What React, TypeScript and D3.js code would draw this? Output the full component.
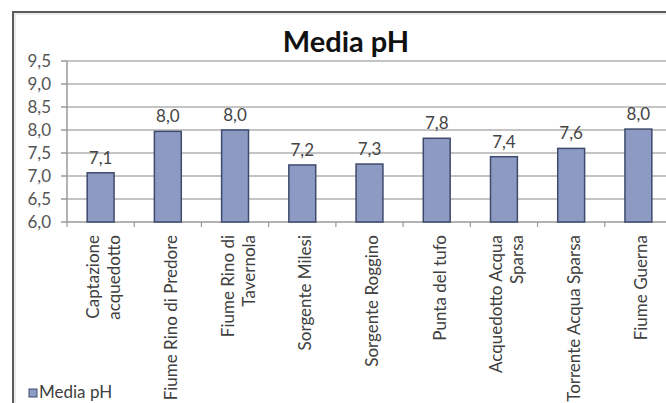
import React from 'react'
import * as d3 from 'd3'

// chart data
const CATEGORIES = [
  'Captazione\nacquedotto',
  'Fiume Rino di Predore',
  'Fiume Rino di\nTavernola',
  'Sorgente Milesi',
  'Sorgente Roggino',
  'Punta del tufo',
  'Acquedotto Acqua\nSparsa',
  'Torrente Acqua Sparsa',
  'Fiume Guerna',
]
const VALUES = [7.07, 7.97, 8.0, 7.24, 7.26, 7.82, 7.42, 7.6, 8.02]
const Y_TICKS = [6.0, 6.5, 7.0, 7.5, 8.0, 8.5, 9.0, 9.5]
const TITLE = 'Media pH'
const SERIES = 'Media pH'

const W = 666
const H = 403
const FONT = 'Lato, "Open Sans", sans-serif'
const BAR_FILL = '#8d9bc4'
const BAR_STROKE = '#3f4b6c'
const GRID = '#c4c4c4'

const fmt = (v: number) => v.toFixed(1).replace('.', ',')

export default function App() {
  const svgRef = React.useRef<SVGSVGElement>(null)

  React.useEffect(() => {
    document.body.style.margin = '0'
    const svg = d3.select(svgRef.current!)
    svg.selectAll('*').remove()

    const left = 67, right = 672, top = 61, bottom = 222

    const x = d3.scaleBand<number>()
      .domain(d3.range(CATEGORIES.length))
      .range([left, right])
      .paddingInner(0.6)
      .paddingOuter(0.3)
    const y = d3.scaleLinear().domain([6, 9.5]).range([bottom, top])

    svg.append('rect').attr('width', W).attr('height', H).attr('fill', '#fff')

    // chart frame (runs off the right and bottom edges)
    svg.append('rect')
      .attr('x', 13).attr('y', 12).attr('width', 720).attr('height', 440)
      .attr('fill', 'none').attr('stroke', '#5a5a5a').attr('stroke-width', 2)
    svg.append('rect')
      .attr('x', 15).attr('y', 14).attr('width', 720).attr('height', 440)
      .attr('fill', 'none').attr('stroke', '#d8d8d8').attr('stroke-width', 1)

    // title
    svg.append('text')
      .attr('x', 346).attr('y', 52)
      .attr('text-anchor', 'middle')
      .attr('font-family', FONT).attr('font-weight', 700).attr('font-size', 29)
      .attr('fill', '#111')
      .text(TITLE)

    // gridlines
    svg.append('g').selectAll('line')
      .data(Y_TICKS.filter(t => t > 6))
      .join('line')
      .attr('x1', left).attr('x2', W)
      .attr('y1', d => y(d)).attr('y2', d => y(d))
      .attr('stroke', GRID).attr('stroke-width', 2)

    // y axis
    const yAxis = svg.append('g')
    yAxis.append('line')
      .attr('x1', left).attr('x2', left).attr('y1', top).attr('y2', bottom)
      .attr('stroke', '#9a9a9a').attr('stroke-width', 1.5)
    yAxis.selectAll('line.tick')
      .data(Y_TICKS)
      .join('line')
      .attr('class', 'tick')
      .attr('x1', left - 6).attr('x2', left)
      .attr('y1', d => y(d)).attr('y2', d => y(d))
      .attr('stroke', '#9a9a9a').attr('stroke-width', 1.5)
    yAxis.selectAll('text')
      .data(Y_TICKS)
      .join('text')
      .attr('x', 51).attr('y', d => y(d))
      .attr('dy', '0.35em')
      .attr('text-anchor', 'end')
      .attr('font-family', FONT).attr('font-size', 17)
      .attr('fill', '#555')
      .text(d => fmt(d))

    // x axis
    const step = x.step()
    svg.append('line')
      .attr('x1', left).attr('x2', W).attr('y1', bottom).attr('y2', bottom)
      .attr('stroke', '#9a9a9a').attr('stroke-width', 1.5)
    svg.append('g').selectAll('line')
      .data(d3.range(CATEGORIES.length + 1))
      .join('line')
      .attr('x1', i => left + i * step).attr('x2', i => left + i * step)
      .attr('y1', bottom).attr('y2', bottom + 5)
      .attr('stroke', '#9a9a9a').attr('stroke-width', 1.2)

    // bars
    svg.append('g').selectAll('rect')
      .data(VALUES)
      .join('rect')
      .attr('x', (_, i) => x(i)!)
      .attr('y', d => y(d))
      .attr('width', x.bandwidth())
      .attr('height', d => bottom - y(d))
      .attr('fill', BAR_FILL)
      .attr('stroke', BAR_STROKE).attr('stroke-width', 1.5)

    // value labels
    svg.append('g').selectAll('text')
      .data(VALUES)
      .join('text')
      .attr('x', (_, i) => x(i)! + x.bandwidth() / 2)
      .attr('y', d => y(d) - 9)
      .attr('text-anchor', 'middle')
      .attr('font-family', FONT).attr('font-size', 17)
      .attr('fill', '#444')
      .text(d => fmt(d))

    // category labels, rotated, anchored just under the axis
    const lh = 21
    CATEGORIES.forEach((c, i) => {
      const lines = c.split('\n')
      const cx = x(i)! + x.bandwidth() / 2 + 3
      const t = svg.append('text')
        .attr('transform', `translate(${cx},${bottom + 13}) rotate(-90)`)
        .attr('text-anchor', 'end')
        .attr('font-family', FONT).attr('font-size', 17)
        .attr('fill', '#404040')
      lines.forEach((ln, j) => {
        t.append('tspan')
          .attr('x', 0)
          .attr('y', (j - (lines.length - 1) / 2) * lh)
          .attr('dy', '0.35em')
          .text(ln)
      })
    })

    // legend
    svg.append('rect')
      .attr('x', 29).attr('y', 389).attr('width', 8).attr('height', 8)
      .attr('fill', BAR_FILL).attr('stroke', BAR_STROKE).attr('stroke-width', 1)
    svg.append('text')
      .attr('x', 39).attr('y', 398)
      .attr('font-family', FONT).attr('font-size', 17)
      .attr('fill', '#404040')
      .text(SERIES)
  }, [])

  return <svg ref={svgRef} width={W} height={H} style={{ display: 'block' }} />
}
